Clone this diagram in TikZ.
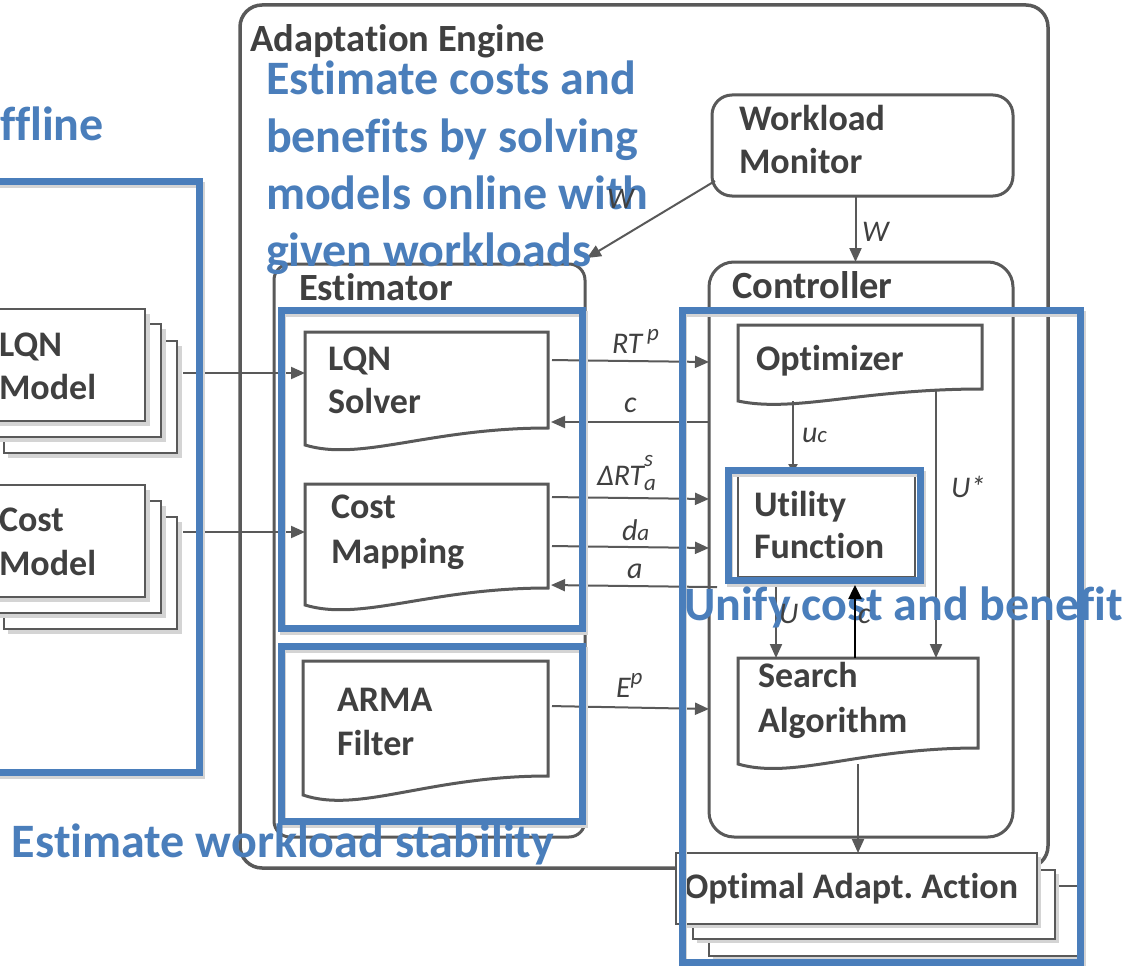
\documentclass[tikz,border=0pt]{standalone}
\usepackage{fontspec}
\setmainfont{Carlito}[RawFeature={-liga;-clig}]
\usetikzlibrary{arrows.meta}
\definecolor{cgray}{RGB}{89,89,89}
\definecolor{ctext}{RGB}{64,64,64}
\definecolor{cblue}{RGB}{74,126,187}
\definecolor{cshadow}{RGB}{212,212,212}
\frenchspacing
\begin{document}
\begin{tikzpicture}[x=1pt,y=-1pt,
  box/.style={draw=cgray, line width=3pt, fill=white, inner sep=0pt, outer sep=0pt, anchor=north west},
  stk/.style={draw=cgray, line width=2.5pt, fill=white, inner sep=0pt, outer sep=0pt, anchor=north west},
  area/.style={inner sep=0pt, outer sep=0pt, anchor=north west},
  shp/.style={draw=cgray, line width=3pt, fill=white},
  shd/.style={fill=cshadow},
  lbl/.style={text=ctext, font=\fontsize{36}{43}\selectfont\bfseries, anchor=base west, inner sep=0pt, outer sep=0pt},
  ttl/.style={lbl, font=\fontsize{38.5}{43}\selectfont\bfseries},
  blt/.style={text=cblue, font=\fontsize{48}{57}\selectfont\bfseries, anchor=base west, inner sep=0pt, outer sep=0pt},
  elab/.style={text=ctext, font=\fontsize{30}{34}\selectfont\itshape, anchor=base west, inner sep=0pt, outer sep=0pt},
  arr/.style={draw=cgray, line width=2pt, -{Triangle[length=14pt,width=12pt]}},
  barr/.style={draw=black, line width=2.5pt, -{Triangle[length=14pt,width=13pt]}},
  bfr/.style={draw=cblue, line width=7pt},
  bsh/.style={draw=cshadow, line width=6pt}]
\useasboundingbox (0,0) rectangle (1128,966);
\fill[white] (0,0) rectangle (1128,966);

% ---------- Adaptation Engine ----------
\node[box, line width=3.5pt, rounded corners=22pt, minimum width=808pt, minimum height=863pt] (ae) at (240,5) {};
\node[ttl] (aet) at (250,52) {Adaptation Engine};

% ---------- left stacks ----------
\fill[shd] (8,346) rectangle (182,458);
\node[stk, minimum width=173pt, minimum height=112pt] (lqn3) at (4,341) {};
\fill[shd] (-8,329) rectangle (166,442);
\node[stk, minimum width=173pt, minimum height=113pt] (lqn2) at (-12,324) {};
\fill[shd] (-24,314) rectangle (150,426);
\node[stk, minimum width=173pt, minimum height=112pt] (lqn1) at (-28,309) {};
\node[lbl] (lqnt1) at (-1,356) {LQN};
\node[lbl] (lqnt2) at (-1,399) {Model};

\fill[shd] (8,522) rectangle (182,634);
\node[stk, minimum width=173pt, minimum height=112pt] (cm3) at (4,517) {};
\fill[shd] (-8,506) rectangle (166,618);
\node[stk, minimum width=173pt, minimum height=112pt] (cm2) at (-12,501) {};
\fill[shd] (-24,490) rectangle (150,602);
\node[stk, minimum width=173pt, minimum height=112pt] (cm1) at (-28,485) {};
\node[lbl] (cmt1) at (-1,531) {Cost};
\node[lbl] (cmt2) at (-1,575) {Model};

% ---------- Workload monitor ----------
\node[box, rounded corners=20pt, minimum width=301pt, minimum height=101pt] (wm) at (712,95) {};
\node[lbl] (wmt1) at (739,130) {Workload};
\node[lbl] (wmt2) at (739,173) {Monitor};

% ---------- Estimator ----------
\node[box, rounded corners=16pt, minimum width=311pt, minimum height=573pt] (est) at (274,264) {};
\node[ttl] (estt) at (299,300) {Estimator};

\node[area, minimum width=243pt, minimum height=113pt] (solver) at (305,332) {};
\draw[shp] (305,332) -- (548,332) -- (548,428) .. controls (429,428) and (361,462) .. (305,445) -- cycle;
\node[lbl] (solt1) at (328,370) {LQN};
\node[lbl] (solt2) at (328,413) {Solver};

\node[area, minimum width=243pt, minimum height=121pt] (cmap) at (305,484) {};
\draw[shp] (305,484) -- (548,484) -- (548,588) .. controls (429,588) and (361,622) .. (305,605) -- cycle;
\node[lbl] (cmapt1) at (331,518) {Cost};
\node[lbl] (cmapt2) at (331,563) {Mapping};

\node[area, minimum width=245pt, minimum height=134pt] (arma) at (303,661) {};
\draw[shp] (303,661) -- (548,661) -- (548,776) .. controls (428,776) and (359,814) .. (303,795) -- cycle;
\node[lbl] (armat1) at (337,711) {ARMA};
\node[lbl] (armat2) at (337,755) {Filter};

% ---------- Controller ----------
\node[box, rounded corners=25pt, minimum width=304pt, minimum height=575pt] (ctrl) at (709,262) {};
\node[ttl] (ctrlt) at (732,298) {Controller};

\node[area, minimum width=244pt, minimum height=76pt] (opt) at (738,325) {};
\draw[shp] (738,325) -- (982,325) -- (982,389) .. controls (862,389) and (794,413) .. (738,401) -- cycle;
\node[lbl] (optt) at (756,370) {Optimizer};

\node[box, line width=2.5pt, minimum width=177pt, minimum height=104pt] (util) at (738,473) {};
\node[lbl] (utilt1) at (754,516) {Utility};
\node[lbl] (utilt2) at (754,558) {Function};

\node[area, minimum width=240pt, minimum height=106pt] (search) at (738,658) {};
\draw[shp] (738,658) -- (978,658) -- (978,748) .. controls (860,748) and (793,780) .. (738,764) -- cycle;
\node[lbl] (srcht1) at (758,687) {Search};
\node[lbl] (srcht2) at (758,732) {Algorithm};

% ---------- connectors ----------
\draw[arr, shorten <=6pt] (lqn3.east |- 0,373) -- (solver.west |- 0,373);
\draw[arr, shorten <=6pt] (cm3.east |- 0,532) -- (cmap.west |- 0,532);

\draw[arr, shorten <=4pt] (solver.east |- 0,360) -- (ctrl.west |- 0,362);
\draw[arr, shorten >=3pt] (ctrl.west |- 0,422) -- (solver.east |- 0,422);
\draw[arr, shorten <=4pt] (cmap.east |- 0,497) -- (ctrl.west |- 0,499);
\draw[arr, shorten <=4pt] (cmap.east |- 0,546) -- (ctrl.west |- 0,548);
\draw[arr, shorten >=3pt, shorten <=-8pt] (ctrl.west |- 0,587) -- (cmap.east |- 0,585);
\draw[arr, shorten <=4pt] (arma.east |- 0,706) -- (ctrl.west |- 0,709);

\draw[arr] ([xshift=-7pt]wm.south) -- ([xshift=-7pt]wm.south |- ctrl.north);
\draw[arr] ([shift={(3,-15)}]wm.south west) -- ([shift={(2,-6)}]est.north east);

\draw[arr, -{Triangle[length=9pt,width=9pt]}] ([xshift=55pt]opt.south west) -- ([xshift=55pt]util.north west);
\draw[arr] ([xshift=198pt]opt.north west |- 0,389) -- ([xshift=198pt]search.north west);
\draw[arr] ([xshift=38pt]util.south west) -- ([xshift=38pt]search.north west);
\draw[arr] (search.south) -- (search.south |- 0,853);

% ---------- Optimal Adapt. Action ----------
\fill[shd] (713,890) rectangle (1082,960);
\node[stk, minimum width=369pt, minimum height=70pt] (oaa3) at (709,886) {};
\fill[shd] (697,874) rectangle (1059,943);
\node[stk, minimum width=362pt, minimum height=69pt] (oaa2) at (693,870) {};
\fill[shd] (680,857) rectangle (1041,928);
\node[stk, minimum width=361pt, minimum height=71pt] (oaa1) at (676,853) {};
\node[lbl] (oaat) at (684,898) {Optimal Adapt. Action};

% ---------- edge labels ----------
\node[elab] (lrt) at (612,353) {RT\,\raisebox{13pt}{\fontsize{23}{23}\selectfont p}};
\node[elab] (lc1) at (624,412) {c};
\node[elab] (ldrt) at (597,485) {ΔRT\rlap{\raisebox{19pt}{\fontsize{23}{23}\selectfont s}}\raisebox{-5pt}{\fontsize{23}{23}\selectfont a}};
\node[elab] (lda) at (622,540) {d{\fontsize{23}{23}\selectfont a}};
\node[elab] (la) at (627,578) {a};
\node[elab] (lep) at (616,697) {E\raisebox{13pt}{\fontsize{23}{23}\selectfont p}};
\node[elab] (luc) at (802,442) {u{\fontsize{23}{23}\selectfont c}};
\node[elab] (lus) at (951,497) {U*};
\node[elab] (lw1) at (862,241) {W};

% ---------- blue frames ----------
\draw[bsh] (-8,185) rectangle (202,776);
\draw[bfr] (-10,181) rectangle (199,772);
\draw[bsh] (283,314) rectangle (585,632);
\draw[bfr] (281,310) rectangle (582,628);
\draw[bsh] (283,650) rectangle (585,825);
\draw[bfr] (281,646) rectangle (582,821);
\draw[bsh] (684,314) rectangle (1083,966);
\draw[bfr] (682,310) rectangle (1080,962);
\draw[bsh] (730,474) rectangle (923,584);
\draw[bfr] (728,470) rectangle (920,580);

% ---------- blue annotations ----------
\node[blt] (off) at (0,140) {ffline};
\node[blt] (bt1) at (266,95) {Estimate costs and};
\node[blt] (bt2) at (266,152) {benefits by solving};
\node[blt] (bt3) at (266,209) {models online with};
\node[blt] (bt4) at (266,266) {given workloads};
\node[blt] (bt5) at (12,857) {Estimate workload stability};
\node[blt] (bt6) at (684,620) {Unify cost and benefit};

\node[elab] (lw2) at (607,208) {W};
\node[elab] (lu) at (779,623) {U};
\node[elab] (lc2) at (858,623) {c};
\draw[barr] ([xshift=117pt]search.north west) -- ([xshift=117pt]search.north west |- 0,585);
\end{tikzpicture}
\end{document}
